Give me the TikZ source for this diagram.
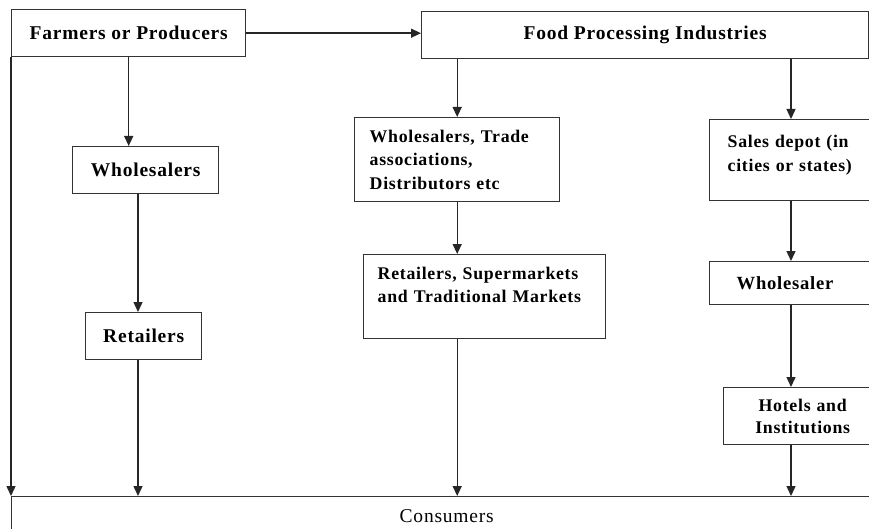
\documentclass[tikz,border=0pt]{standalone}
\usepackage{fontspec}
\setmainfont{Liberation Serif}[LetterSpace=4.0]
\usetikzlibrary{arrows.meta}

\begin{document}
\begin{tikzpicture}[x=1pt, y=-1pt,
    box/.style={draw=black!80, line width=1.4pt, rectangle, anchor=north west, inner sep=0pt,
        font=\fontsize{19.5}{23.5}\selectfont\bfseries},
    smallbox/.style={box, font=\fontsize{17.8}{23.5}\selectfont\bfseries},
    flow/.style={-{Triangle[length=10pt,width=9pt]}, line width=1.4pt, draw=black!85}]
    % page frame
    \useasboundingbox (0,0) rectangle (869,529);
    \clip (0,0) rectangle (869,529);

    % producers and processors
    \node[box, minimum width=234, minimum height=47] (farm) at (11,9) {Farmers or Producers};
    \node[box, minimum width=447, minimum height=47] (food) at (421,11) {Food Processing Industries};

    % left channel
    \node[box, minimum width=146, minimum height=47] (whl) at (72,146) {Wholesalers};
    \node[box, minimum width=116, minimum height=47] (ret) at (85,312) {Retailers};

    % middle channel
    \node[smallbox, minimum height=84, inner xsep=15, text width=175, align=left] (trade) at (354,117)
        {Wholesalers, Trade\\associations,\\Distributors etc};
    \node[smallbox, minimum height=84, inner xsep=14, text width=214, align=left] (retsup) at (363,254)
        {Retailers, Supermarkets\\and Traditional Markets\\~};

    % right channel
    \node[smallbox, minimum height=81, inner xsep=18, text width=170, align=left] (sales) at (709,119)
        {Sales depot (in\\cities or states)\\[-10pt]~};
    \node[box, minimum height=43, inner xsep=27, text width=150, align=left,
        font=\fontsize{18.6}{23.5}\selectfont\bfseries] (whs) at (709,261) {Wholesaler};
    \node[smallbox, minimum height=57, inner xsep=8, text width=142, align=center,
        font=\fontsize{17.8}{22}\selectfont\bfseries] (hotel) at (723,387) {Hotels and\\Institutions};

    % end users
    \node[box, minimum width=870, minimum height=38, font=\fontsize{19.5}{23.5}\selectfont\mdseries] (cons) at (11,496) {Consumers};

    \coordinate (laxis) at (138,0);
    \coordinate (raxis) at (791,0);

    \draw[flow] (farm.east) -- (farm.east -| food.west);
    \draw[flow] (farm.south west) -- (cons.north west);
    \draw[flow] (farm.south) -- (whl.north -| farm.south);
    \draw[flow] (whl.south -| laxis) -- (ret.north -| laxis);
    \draw[flow] (ret.south -| laxis) -- (cons.north -| laxis);

    \draw[flow] (food.south -| trade.north) -- (trade.north);
    \draw[flow] (trade.south) -- (retsup.north -| trade.south);
    \draw[flow] (retsup.south -| trade.south) -- (cons.north -| trade.south);

    \draw[flow] (food.south -| raxis) -- (sales.north -| raxis);
    \draw[flow] (sales.south -| raxis) -- (whs.north -| raxis);
    \draw[flow] (whs.south -| raxis) -- (hotel.north -| raxis);
    \draw[flow] (hotel.south -| raxis) -- (cons.north -| raxis);
\end{tikzpicture}
\end{document}
